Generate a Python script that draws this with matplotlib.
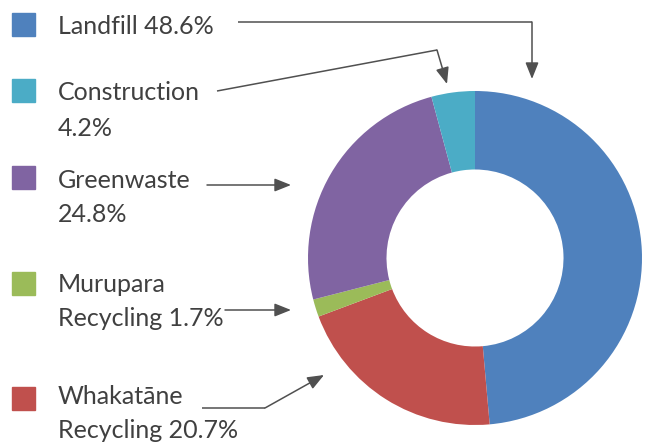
import matplotlib.pyplot as plt

# waste shares, clockwise from 12 o'clock
categories = ["Landfill", "Whakatāne Recycling", "Murupara Recycling", "Greenwaste", "Construction"]
shares = [48.6, 20.7, 1.7, 24.8, 4.2]
slice_colors = ["#4F81BD", "#C0504D", "#9BBB59", "#8064A2", "#4BACC6"]

# legend text as shown on the left, top to bottom
legend_lines = [
    ["Landfill 48.6%"],
    ["Construction", "4.2%"],
    ["Greenwaste", "24.8%"],
    ["Murupara", "Recycling 1.7%"],
    ["Whakatāne", "Recycling 20.7%"],
]
legend_colors = ["#4F81BD", "#4BACC6", "#8064A2", "#9BBB59", "#C0504D"]

plt.rcParams['font.family'] = ['Lato', 'DejaVu Sans']

W, H = 649, 445
fig = plt.figure(figsize=(W / 100, H / 100), dpi=100)

# donut
cx, cy, r = 475, 258, 167
pax = fig.add_axes([(cx - r) / W, (H - cy - r) / H, 2 * r / W, 2 * r / H])
pax.pie(shares, colors=slice_colors, startangle=90, counterclock=False,
        radius=1, wedgeprops=dict(width=0.47, linewidth=0))
pax.set_xlim(-1, 1)
pax.set_ylim(-1, 1)
pax.set_aspect('equal')
pax.axis('off')

# overlay in pixel coordinates
ax = fig.add_axes([0, 0, 1, 1])
ax.set_xlim(0, W)
ax.set_ylim(H, 0)
ax.axis('off')

text_col = "#404040"
line_col = "#505050"
square_tops = [13, 79, 166, 272, 387]
text_rows = [[26], [92, 128], [180, 214], [285, 318], [397, 430]]

for lines, col, top, ys in zip(legend_lines, legend_colors, square_tops, text_rows):
    ax.add_patch(plt.Rectangle((12, top), 23, 23, color=col))
    for t, y in zip(lines, ys):
        ax.text(58, y, t, fontsize=18, color=text_col, va='center', ha='left')

# leader lines with arrows
paths = [
    [(238, 22), (532, 22), (532, 79)],
    [(217, 91), (437, 50), (447, 84)],
    [(207, 185), (291, 185)],
    [(225, 310), (291, 310)],
    [(202, 408), (265, 408), (324, 375)],
]
for p in paths:
    xs = [q[0] for q in p[:-1]]
    ys = [q[1] for q in p[:-1]]
    if len(p) > 2:
        ax.plot(xs, ys, color=line_col, lw=1.1, solid_capstyle='butt')
    ax.annotate("", xy=p[-1], xytext=p[-2],
                arrowprops=dict(arrowstyle='-|>,head_length=1.0,head_width=0.4',
                                color=line_col, lw=1.1, shrinkA=0, shrinkB=0))

fig.savefig("out.png", dpi=100)
